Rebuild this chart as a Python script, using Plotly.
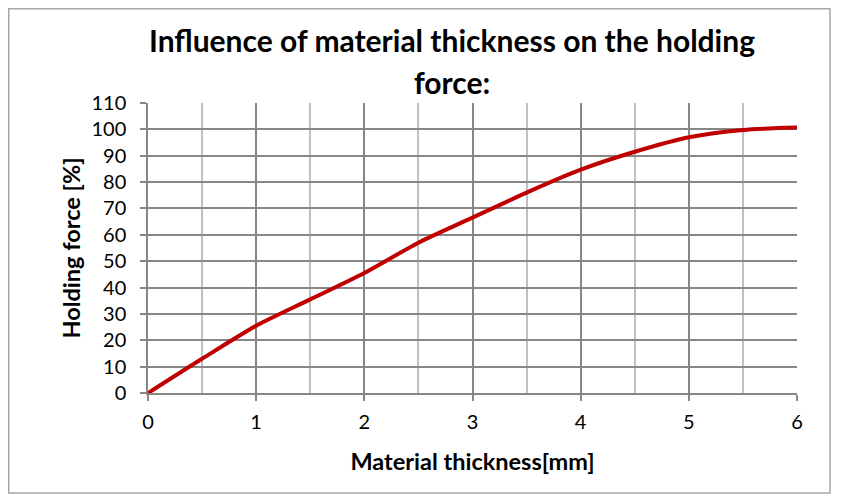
import plotly.graph_objects as go

thickness_mm = [0, 0.5, 1, 1.5, 2, 2.5, 3, 3.5, 4, 4.5, 5, 5.5, 6]
holding_force_pct = [0, 13, 25.5, 35.5, 45.5, 57, 66.5, 76, 84.7, 91.5, 97, 99.8, 100.7]
title_line1 = "Influence of material thickness on the holding"
title_line2 = "force:"
x_title = "Material thickness[mm]"
y_title = "Holding force [%]"

OFF = 8  # page body margin
W, H = 841 - OFF, 502 - OFF
L, R, T, B = 148 - OFF, 797 - OFF, 103 - OFF, 393 - OFF
pw, ph = R - L, B - T


def px(xp):
    return (xp - OFF - L) / pw


def py(yp):
    return (B - (yp - OFF)) / ph


fig = go.Figure()
fig.add_trace(go.Scatter(
    x=thickness_mm, y=holding_force_pct, mode="lines",
    line=dict(color="#c00000", width=4, shape="spline", smoothing=0.8),
    showlegend=False, hoverinfo="x+y"))

dark = "#878787"
light = "#c0c0c0"
fnt = "Lato"

fig.update_layout(
    width=W, height=H,
    margin=dict(l=L, r=W - R, t=T, b=H - B),
    paper_bgcolor="white", plot_bgcolor="white",
    font=dict(family=fnt, color="black"),
    xaxis=dict(range=[0, 6], dtick=1, tick0=0, showgrid=True, gridcolor=dark, gridwidth=1.5,
               minor=dict(dtick=0.5, showgrid=True, gridcolor=light, gridwidth=1.5),
               showline=True, linecolor=dark, linewidth=1.5, zeroline=False,
               ticks="outside", ticklen=6, tickcolor=dark, tickwidth=1.5,
               ticklabelstandoff=4,
               tickfont=dict(family=fnt, size=20, color="black"),
               title=dict(text="<b>" + x_title + "</b>", standoff=22,
                          font=dict(family=fnt, size=23.5, color="black"))),
    yaxis=dict(range=[0, 110], dtick=10, tick0=0, showgrid=True, gridcolor=dark, gridwidth=1.5,
               showline=True, linecolor=dark, linewidth=1.5, zeroline=False,
               ticks="outside", ticklen=6, tickcolor=dark, tickwidth=1.5,
               ticklabelstandoff=10,
               tickfont=dict(family=fnt, size=20, color="black"),
               title=dict(text="<b>" + y_title + "</b>", standoff=4,
                          font=dict(family=fnt, size=23.5, color="black"))),
)

for txt, yc in [(title_line1, 40), (title_line2, 82)]:
    fig.add_annotation(text="<b>" + txt + "</b>", xref="paper", yref="paper",
                       x=px(452), y=py(yc), xanchor="center", yanchor="middle",
                       showarrow=False, font=dict(family=fnt, size=30, color="black"))

fig.add_shape(type="rect", xref="paper", yref="paper",
              x0=px(OFF + 0.75), x1=px(830),
              y0=py(493), y1=py(OFF + 0.75),
              line=dict(color="#a6a6a6", width=1.5), fillcolor="rgba(0,0,0,0)", layer="below")

fig.write_html("out.html")
